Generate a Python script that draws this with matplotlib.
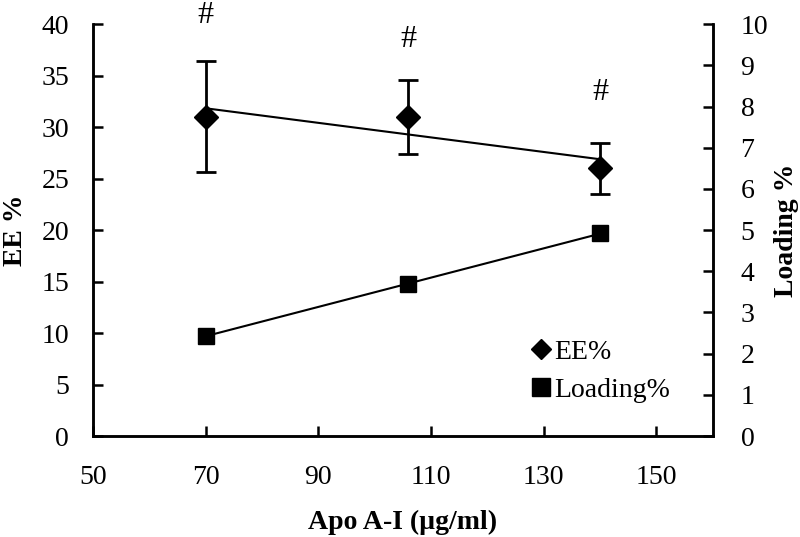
import numpy as np
import matplotlib
matplotlib.use('Agg')
import matplotlib.pyplot as plt

plt.rcParams['font.family'] = ['Liberation Serif', 'DejaVu Serif']

# data
apo = [70, 106, 140]
ee = [31.0, 31.0, 26.0]
ee_err = [5.4, 3.6, 2.45]
loading = [2.43, 3.69, 4.92]
sig_marks = ['#', '#', '#']
sig_y = [40.8, 38.5, 33.4]

fig = plt.figure(figsize=(8, 5.37), dpi=100)
ax = fig.add_axes([0.116, 0.188, 0.775, 0.767])
ax2 = ax.twinx()

# EE% with error bars + linear trend
ax.errorbar(apo, ee, yerr=ee_err, fmt='D', color='black', markersize=12,
            ecolor='black', elinewidth=2, capsize=7, capthick=2, zorder=5)
k, b = np.polyfit(apo, ee, 1)
xs = np.array([apo[0], apo[-1]])
ax.plot(xs, k * xs + b, color='black', linewidth=1.5, zorder=4)

for x, y, s in zip(apo, sig_y, sig_marks):
    ax.text(x, y, s, ha='center', va='center', fontsize=23, clip_on=False)

# Loading% + linear trend
ax2.plot(apo, loading, 's', color='black', markersize=12, zorder=5)
k2, b2 = np.polyfit(apo, loading, 1)
ax2.plot(xs, k2 * xs + b2, color='black', linewidth=1.5, zorder=4)

ax.set_xlim(50, 160)
ax.set_xticks([50, 70, 90, 110, 130, 150])
ax.set_ylim(0, 40)
ax.set_yticks(range(0, 41, 5))
ax2.set_ylim(0, 10)
ax2.set_yticks(range(0, 11))

for a in (ax, ax2):
    a.spines['top'].set_visible(False)
    for sp in a.spines.values():
        sp.set_linewidth(1.8)
    a.tick_params(direction='in', length=7, width=1.8, labelsize=20)
ax.tick_params(axis='x', pad=21)
ax.tick_params(axis='y', pad=17)
ax2.tick_params(axis='y', pad=20)

ax.set_xlabel('Apo A-I (µg/ml)', fontsize=20, fontweight='bold', labelpad=14)
ax.set_ylabel('EE %', fontsize=20, fontweight='bold', labelpad=10)
ax2.set_ylabel('Loading %', fontsize=20, fontweight='bold', labelpad=4)

h1 = plt.Line2D([], [], marker='D', color='black', linestyle='none', markersize=10)
h2 = plt.Line2D([], [], marker='s', color='black', linestyle='none', markersize=13)
fig.legend([h1, h2], ['EE%', 'Loading%'], loc='upper left',
           bbox_to_anchor=(0.635, 0.415), frameon=False, fontsize=20,
           handlelength=0.6, handletextpad=0.15, labelspacing=0.45)

fig.savefig('out.png', dpi=100)
